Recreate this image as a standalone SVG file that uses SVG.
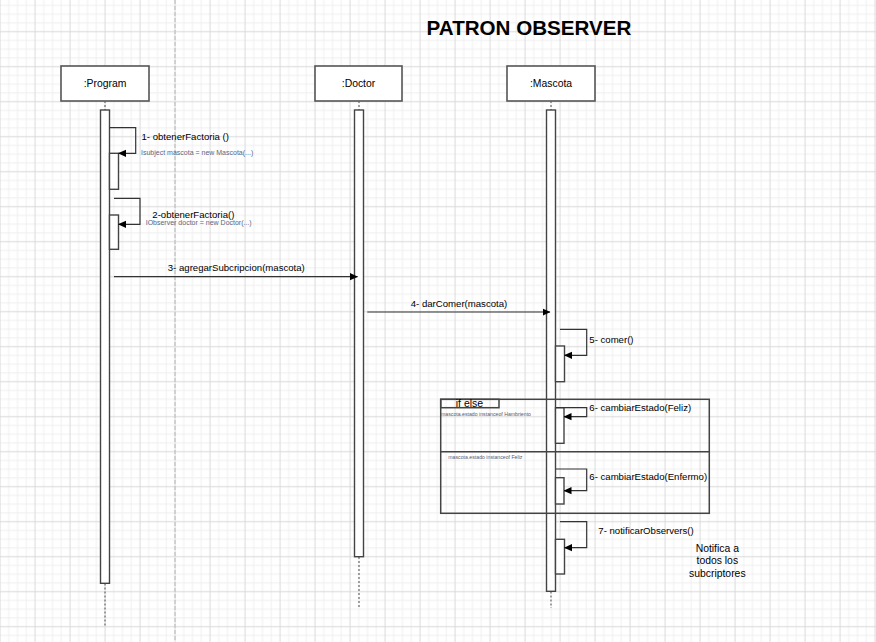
<svg xmlns="http://www.w3.org/2000/svg" width="876" height="642" viewBox="0 0 876 642">
  <defs>
    <pattern id="grid" width="35" height="35" patternUnits="userSpaceOnUse" x="-4.375" y="27.3">
      <path d="M13.125,0 V35 M21.875,0 V35 M30.625,0 V35 M0,13.125 H35 M0,21.875 H35 M0,30.625 H35" stroke="#efefef" stroke-width="1" fill="none"/>
      <path d="M4.375,0 V35 M0,4.375 H35" stroke="#d9d9d9" stroke-width="1" fill="none"/>
    </pattern>
    <marker id="arr" viewBox="0 0 8 8" refX="7.5" refY="4" markerWidth="8" markerHeight="8" markerUnits="userSpaceOnUse" orient="auto">
      <path d="M0,0.4 L8,4 L0,7.6 z" fill="#000"/>
    </marker>
    <style>
      .box { fill: #fff; stroke: #555; stroke-width: 1.6; }
      .bar { fill: #fff; stroke: #444; stroke-width: 1.4; }
      .life { stroke: #666; stroke-width: 1.2; stroke-dasharray: 2 2; fill: none; }
      .msg { stroke: #333; stroke-width: 1.2; fill: none; marker-end: url(#arr); }
      .lbl { font-family: "Liberation Sans", Arial, sans-serif; font-size: 9.6px; fill: #000; }
      .name { font-family: "Liberation Sans", Arial, sans-serif; font-size: 10.4px; fill: #000; text-anchor: middle; }
      .code { font-family: "Liberation Sans", Arial, sans-serif; font-size: 7px; fill: #5a6785; }
      .cond { font-family: "Liberation Sans", Arial, sans-serif; font-size: 5.2px; fill: #555a70; }
      .frame { fill: none; stroke: #444; stroke-width: 1.5; }
    </style>
  </defs>

  <rect x="0" y="0" width="876" height="642" fill="#fff"/>
  <rect x="0" y="0" width="876" height="642" fill="url(#grid)"/>
  <line x1="175" y1="0" x2="175" y2="642" stroke="#c8c8c8" stroke-width="1.5" stroke-dasharray="4 2"/>

  <text x="529" y="35" text-anchor="middle" font-family="'Liberation Sans', Arial, sans-serif" font-weight="bold" font-size="20.6" fill="#000">PATRON OBSERVER</text>

  <g id="program">
    <rect class="box" x="61" y="66" width="88" height="35"/>
    <text class="name" x="105" y="87">:Program</text>
    <line class="life" x1="105" y1="101" x2="105" y2="110"/>
    <line class="life" x1="105" y1="583.5" x2="105" y2="626"/>
    <rect class="bar" x="100.5" y="110" width="9" height="473.3"/>
    <rect class="bar" x="109.5" y="153.3" width="9" height="36"/>
    <rect class="bar" x="109.5" y="215" width="9" height="34.3"/>
  </g>

  <g id="doctor">
    <rect class="box" x="315" y="66" width="87" height="35"/>
    <text class="name" x="358.5" y="87">:Doctor</text>
    <line class="life" x1="359" y1="101" x2="359" y2="110"/>
    <line class="life" x1="359" y1="557" x2="359" y2="608"/>
    <rect class="bar" x="354.5" y="110" width="9" height="446.7"/>
  </g>

  <g id="mascota">
    <rect class="box" x="507" y="66" width="88" height="35"/>
    <text class="name" x="551" y="87">:Mascota</text>
    <line class="life" x1="551" y1="101" x2="551" y2="110"/>
    <line class="life" x1="551" y1="591.5" x2="551" y2="608"/>
    <rect class="bar" x="546.5" y="110" width="9" height="481.3"/>
    <rect class="bar" x="555.5" y="346" width="9" height="35.7"/>
    <rect class="bar" x="555.5" y="407.7" width="8.5" height="35.6"/>
    <rect class="bar" x="555.5" y="477.7" width="8.5" height="26.3"/>
    <rect class="bar" x="555.5" y="539.3" width="9" height="34.7"/>
  </g>

  <g id="alt-frame">
    <rect class="frame" x="440.7" y="399.3" width="268.6" height="114"/>
    <line x1="440.7" y1="451.7" x2="709.3" y2="451.7" stroke="#444" stroke-width="1.5"/>
    <rect class="frame" x="440.7" y="399.3" width="58.3" height="8.4"/>
    <text x="469.5" y="407" text-anchor="middle" font-family="'Liberation Sans', Arial, sans-serif" font-size="10.5" fill="#000">if else</text>
    <text class="cond" x="441" y="416">mascota.estado instanceof Hambriento</text>
    <text class="cond" x="448.3" y="459">mascota.estado instanceof Feliz</text>
  </g>

  <g id="connectors">
    <path class="msg" d="M109.5,127.7 H135.7 V153.3 H118.5"/>
    <path class="msg" d="M114,198.3 H140 V224.3 H118.5"/>
    <path class="msg" d="M114,276.7 H357.5"/>
    <path class="msg" d="M367.3,312 H550"/>
    <path class="msg" d="M560,329.3 H586.7 V355.3 H564.5"/>
    <path class="msg" d="M556,407.7 H586.7 V416.7 H564"/>
    <path class="msg" d="M556,469 H586.7 V490.7 H564"/>
    <path class="msg" d="M560,521.7 H586.7 V547.7 H564.5"/>
  </g>

  <g id="labels">
    <text class="lbl" x="141.5" y="140">1- obtenerFactoria ()</text>
    <text class="code" x="141" y="154.5">Isubject mascota = new Mascota(...)</text>
    <text class="lbl" x="152.3" y="218">2-obtenerFactoria()</text>
    <text class="code" x="145.7" y="224.5">IObserver doctor = new Doctor(...)</text>
    <text class="lbl" x="236.3" y="270.7" text-anchor="middle">3- agregarSubcripcion(mascota)</text>
    <text class="lbl" x="459" y="307.3" text-anchor="middle">4- darComer(mascota)</text>
    <text class="lbl" x="589.3" y="343">5- comer()</text>
    <text class="lbl" x="589.3" y="411.2">6- cambiarEstado(Feliz)</text>
    <text class="lbl" x="589.3" y="479.5">6- cambiarEstado(Enfermo)</text>
    <text class="lbl" x="598.3" y="533.5">7- notificarObservers()</text>
  </g>

  <g id="note">
    <text class="name" x="717.3" y="552">Notifica a</text>
    <text class="name" x="717.3" y="564.3">todos los</text>
    <text class="name" x="717.3" y="576.5">subcriptores</text>
  </g>
</svg>
